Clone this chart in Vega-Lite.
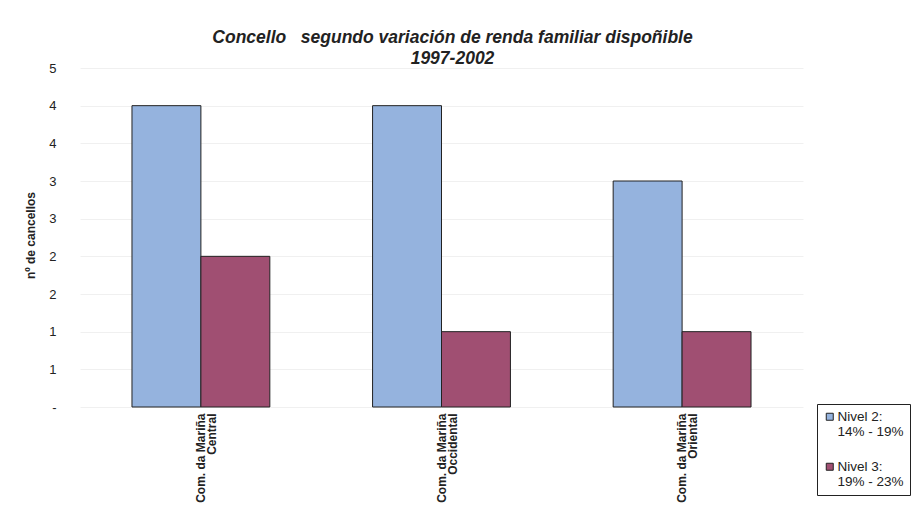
{
  "$schema": "https://vega.github.io/schema/vega-lite/v6.json",
  "width": 723,
  "height": 339,
  "autosize": {"type": "none"},
  "padding": {"left": 80, "top": 68, "right": 110, "bottom": 100},
  "background": "white",
  "title": {
    "text": ["Concello\u00a0\u00a0 segundo variación de renda familiar dispoñible", "1997-2002"],
    "font": "Liberation Sans",
    "fontSize": 17.5,
    "fontStyle": "italic",
    "fontWeight": "bold",
    "color": "#222222",
    "anchor": "middle",
    "dx": 11,
    "offset": -5,
    "lineHeight": 21
  },
  "data": {
    "values": [
      {"region": "Com. da Mariña Central", "nivel": "Nivel 2: 14% - 19%", "n": 4},
      {"region": "Com. da Mariña Central", "nivel": "Nivel 3: 19% - 23%", "n": 2},
      {"region": "Com. da Mariña Occidental", "nivel": "Nivel 2: 14% - 19%", "n": 4},
      {"region": "Com. da Mariña Occidental", "nivel": "Nivel 3: 19% - 23%", "n": 1},
      {"region": "Com. da Mariña Oriental", "nivel": "Nivel 2: 14% - 19%", "n": 3},
      {"region": "Com. da Mariña Oriental", "nivel": "Nivel 3: 19% - 23%", "n": 1}
    ]
  },
  "mark": {"type": "bar", "stroke": "#222222", "strokeWidth": 1},
  "encoding": {
    "x": {
      "field": "region",
      "type": "nominal",
      "scale": {"paddingInner": 0.427, "paddingOuter": 0.216},
      "axis": {
        "title": null,
        "domain": false,
        "ticks": false,
        "labelAngle": -90,
        "labelAlign": "right",
        "labelBaseline": "middle",
        "labelPadding": 6,
        "labelFont": "Liberation Sans",
        "labelFontSize": 12,
        "labelFontWeight": "bold",
        "labelColor": "#222222",
        "labelLineHeight": 11,
        "labelLimit": 200,
        "labelExpr": "[slice(datum.label, 0, 14), slice(datum.label, 15)]"
      }
    },
    "xOffset": {"field": "nivel", "type": "nominal", "scale": {"paddingInner": 0, "paddingOuter": 0}},
    "y": {
      "field": "n",
      "type": "quantitative",
      "scale": {"domain": [0, 4.5], "nice": false},
      "axis": {
        "title": "nº de cancellos",
        "titleFont": "Liberation Sans",
        "titleFontSize": 12,
        "titleFontWeight": "bold",
        "titleColor": "#222222",
        "titleX": -50,
        "titleY": 167,
        "titleAngle": -90,
        "titleAlign": "center",
        "titleBaseline": "middle",
        "domain": false,
        "ticks": false,
        "grid": true,
        "gridColor": "#f0f0f0",
        "gridWidth": 1,
        "values": [0, 0.5, 1, 1.5, 2, 2.5, 3, 3.5, 4, 4.5],
        "labelExpr": "datum.value == 0 ? '-' : '' + round(datum.value)",
        "labelPadding": 24,
        "labelFont": "Liberation Sans",
        "labelFontSize": 13,
        "labelColor": "#222222"
      }
    },
    "color": {
      "field": "nivel",
      "type": "nominal",
      "scale": {"range": ["#95B3DE", "#A04F72"]},
      "legend": {
        "title": null,
        "orient": "none",
        "legendX": 737,
        "legendY": 336,
        "padding": 6,
        "strokeColor": "#222222",
        "fillColor": "white",
        "symbolType": "square",
        "symbolSize": 49,
        "symbolStrokeColor": "#222222",
        "symbolStrokeWidth": 1,
        "symbolOpacity": 1,
        "labelFont": "Liberation Sans",
        "labelFontSize": 13.5,
        "labelColor": "#222222",
        "labelLimit": 200,
        "labelOffset": 1,
        "rowPadding": 20,
        "labelExpr": "[slice(datum.label, 0, 8), slice(datum.label, 9)]"
      }
    }
  },
  "config": {
    "view": {"stroke": null},
    "legend": {"symbolFillColor": null}
  }
}
